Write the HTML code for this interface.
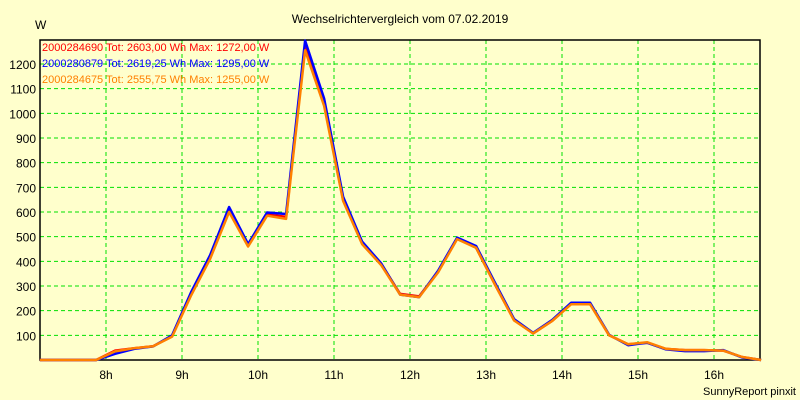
<!DOCTYPE html>
<html><head><meta charset="utf-8"><style>
body{margin:0;background:#ffffcc;}
svg{display:block;font-family:"Liberation Sans",sans-serif;}
</style></head><body>
<svg id="chart" width="800" height="400" viewBox="0 0 800 400">
<rect x="0" y="0" width="800" height="400" fill="#ffffcc"/>
<text x="400" y="23" text-anchor="middle" font-size="12" fill="#000">Wechselrichtervergleich vom 07.02.2019</text>
<text x="35" y="29" font-size="12" fill="#000">W</text>
<text x="796" y="395" text-anchor="end" font-size="11" fill="#000">SunnyReport pinxit</text>
<g id="grid"></g><g id="axes"></g><g id="series"></g><g id="legend"></g>
</svg>
<script>
const yTicks=[100,200,300,400,500,600,700,800,900,1000,1100,1200];
const xTicks=[8,9,10,11,12,13,14,15,16];
const xTickLabels=["8h","9h","10h","11h","12h","13h","14h","15h","16h"];
const times=[7.13,7.87,8.12,8.37,8.62,8.87,9.12,9.37,9.62,9.87,10.12,10.37,10.62,10.87,11.12,11.37,11.62,11.87,12.12,12.37,12.62,12.87,13.12,13.37,13.62,13.87,14.12,14.37,14.62,14.87,15.12,15.37,15.62,15.87,16.12,16.37,16.62];
const redVals=[0,0,38,48,56,96,265,415,610,465,590,580,1272,1040,650,475,390,268,258,358,492,455,305,162,108,158,228,228,100,64,70,45,40,40,38,12,0];
const blueVals=[0,0,25,45,55,100,275,425,620,470,598,592,1295,1060,662,480,392,265,255,362,496,462,312,166,110,162,232,232,102,60,70,43,36,36,40,10,0];
const orangeVals=[0,0,35,48,56,95,262,410,600,460,585,572,1255,1030,645,470,385,265,255,355,490,455,305,160,108,158,226,226,100,64,72,45,40,40,38,12,0];
const seriesNames=["2000284690","2000280879","2000284675"];
const totals=["2603,00","2619,25","2555,75"];
const maxes=["1272,00","1295,00","1255,00"];
const colors=["#ff0000","#0000ff","#ff8000"];
const NS="http://www.w3.org/2000/svg";
const L=40,R=760,T=40,B=360;
const xs=h=>106+(h-8)*76;
const ys=v=>B-v*(296/1200);
function mk(tag,attrs,parent){const e=document.createElementNS(NS,tag);for(const k in attrs)e.setAttribute(k,attrs[k]);parent.appendChild(e);return e;}
const grid=document.getElementById('grid'),axes=document.getElementById('axes'),ser=document.getElementById('series'),leg=document.getElementById('legend');
yTicks.forEach(v=>{
 const l=mk('line',{x1:L,x2:R,y1:ys(v),y2:ys(v),stroke:'#00e000','stroke-dasharray':'4,3'},grid);
 
 
 const t=mk('text',{x:L-4,y:ys(v)+5,'text-anchor':'end','font-size':'12',fill:'#000'},axes);
 t.textContent=v;
 
 
});
xTicks.forEach((h,i)=>{
 const l=mk('line',{x1:xs(h),x2:xs(h),y1:T,y2:B,stroke:'#00e000','stroke-dasharray':'4,3'},grid);
 
 
 const t=mk('text',{x:xs(h),y:B+19,'text-anchor':'middle','font-size':'12',fill:'#000'},axes);
 t.textContent=xTickLabels[i];
 
 
});
const frame=mk('rect',{x:L,y:T,width:R-L,height:B-T,fill:'none',stroke:'#000','stroke-width':1.5},axes);


[redVals,blueVals,orangeVals].forEach((vals,si)=>{
 const pts=vals.map((v,i)=>xs(times[i]).toFixed(1)+','+ys(v).toFixed(1)).join(' ');
 const p=mk('polyline',{points:pts,fill:'none',stroke:colors[si],'stroke-width':2.5,'stroke-linejoin':'round'},ser);
 
 
 const t=mk('text',{x:42,y:51+si*16,'font-size':'11',fill:colors[si]},leg);
 t.textContent=seriesNames[si]+' Tot: '+totals[si]+' Wh Max: '+maxes[si]+' W';
 
 
});
</script>
</body></html>
